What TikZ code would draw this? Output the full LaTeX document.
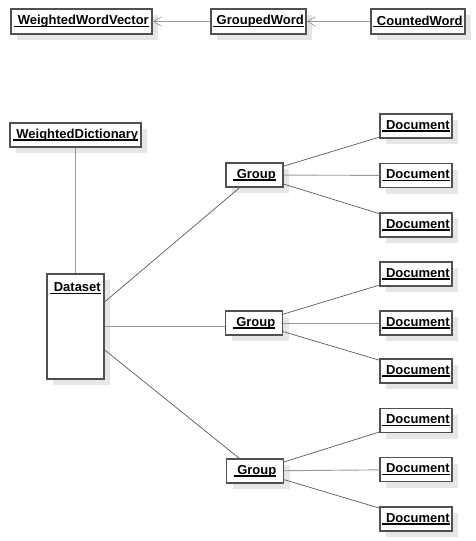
\documentclass[tikz,border=0pt]{standalone}
\usepackage{fontspec}
\setmainfont{Liberation Sans}
\usetikzlibrary{shadows,arrows.meta}
\newcommand\ulname[1]{\setbox0\hbox{\ #1}\rlap{\rule[-2.4pt]{\wd0}{1.3pt}}\box0}
\definecolor{boxline}{HTML}{505050}
\definecolor{shadowc}{HTML}{E6E6E6}
\tikzset{
  obj/.style={draw=boxline, line width=1.1pt, fill=white, inner sep=0pt,
    minimum height=24pt, font=\bfseries\fontsize{13}{15}\selectfont,
    drop shadow={shadow xshift=6pt, shadow yshift=-6pt, fill=shadowc, opacity=1}},
  doc/.style={obj, minimum width=72pt},
  grp/.style={obj, minimum width=57pt},
  link/.style={draw=black!65, line width=0.7pt},
  slink/.style={draw=black!40, line width=0.9pt},
  gen/.style={draw=black!40, line width=0.9pt, -{Straight Barb[length=8pt,width=9pt,line width=0.7pt]}}
}
\begin{document}
\begin{tikzpicture}[x=1pt,y=-1pt]
\useasboundingbox (0,0) rectangle (476,541);
% top row
\node[obj, minimum width=141pt, minimum height=25pt] (wwv) at (81.5,21.5) {\ulname{WeightedWordVector}};
\node[obj, minimum width=95pt, minimum height=25pt] (gw) at (258.5,21.5) {\ulname{GroupedWord}};
\node[obj, minimum width=94pt, minimum height=25pt] (cw) at (418,21.5) {\ulname{CountedWord}};
\draw[gen] (gw) -- (wwv);
\draw[gen] (cw) -- (gw);
% dictionary and dataset
\node[obj, minimum width=131pt] (wd) at (75.5,135) {\ulname{WeightedDictionary}};
\node[obj, minimum width=57pt, minimum height=105pt] (ds) at (75.5,326.5) {};
\node[font=\bfseries\fontsize{13}{15}\selectfont, anchor=north, inner sep=0pt] (dsl) at ([yshift=-9pt]ds.north) {\ulname{Dataset}};
% groups
\node[grp] (g1) at (254.5,175) {\ulname{Group}};
\node[grp] (g2) at (254,323) {\ulname{Group}};
\node[grp] (g3) at (255,471) {\ulname{Group}};
% documents
\foreach \i/\y in {1/126,2/175.5,3/225,4/274,5/323,6/371,7/420.5,8/469.5,9/519}
  \node[doc] (d\i) at (416,\y) {\ulname{Document}};
% connectors
\draw[slink] (wd) -- (ds);
\draw[link] (ds) -- (g1);
\draw[slink] (ds) -- (ds -| g2.west);
\draw[link] (ds) -- (g3);
\draw[link] (g1) -- (d1);
\draw[slink] (g1) -- (d2);
\draw[link] (g1) -- (d3);
\draw[link] (g2) -- (d4);
\draw[slink] (g2) -- (d5);
\draw[link] (g2) -- (d6);
\draw[link] (g3) -- (d7);
\draw[slink] (g3) -- (d8);
\draw[link] (g3) -- (d9);
\end{tikzpicture}
\end{document}
